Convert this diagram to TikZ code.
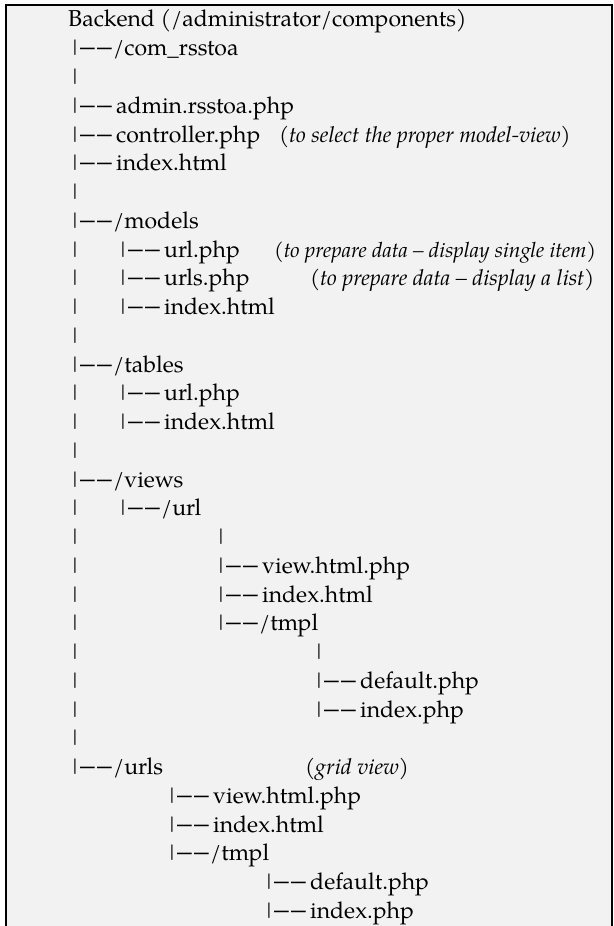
\documentclass[tikz,border=0pt]{standalone}
\usepackage{fontspec}
\setmainfont{texgyrepagella}[Extension=.otf,UprightFont=*-regular,ItalicFont=*-italic,BoldFont=*-bold,BoldItalicFont=*-bolditalic]
\definecolor{bggray}{HTML}{F2F2F2}
\definecolor{bargray}{HTML}{202020}
\newcommand{\fsz}{\fontsize{23}{28}\selectfont}
\newcommand{\csz}{\fontsize{22}{28}\selectfont}
\newcommand{\csm}{\fontsize{21}{28}\selectfont}
\newcommand{\vbar}{{\color{bargray}\raisebox{\depth}{\resizebox{1.2\width}{12.5pt}{|}}}}
\newcommand{\dsh}{\scalebox{0.64}[1.15]{—}}
\newcommand{\pre}{\makebox[8pt][l]{\vbar}\makebox[17pt][l]{\dsh}\dsh}
\newcommand{\br}{\makebox[44pt][l]{\pre}}
\newcommand{\brs}{\makebox[41pt][l]{\pre}}
\tikzset{
  txt/.style={anchor=base west, inner sep=0pt, font=\fsz},
  cmt/.style={anchor=base west, inner sep=0pt, font=\csz\itshape},
  cmts/.style={anchor=base west, inner sep=0pt, font=\csm\itshape},
}
\begin{document}
\begin{tikzpicture}[x=1pt,y=-1pt]
\useasboundingbox (0,0) rectangle (613,926);
\fill[white] (0,0) rectangle (613,926);
\fill[bggray] (6,5) rectangle (613,926);
\draw[line width=2pt] (6,926) -- (6,5) -- (612,5) -- (612,926);
\def\B#1{27+28.75*(#1-1)}
\node[txt] (root) at (68,{\B{1}}) {Backend (/administrator/components)};
\node[txt] (com) at (72,{\B{2}}) {\brs/com\_rsstoa};
\node[txt] (v3) at (72,{\B{3}}) {\vbar};
\node[txt] (admin) at (72,{\B{4}}) {\br admin.rsstoa.php};
\node[txt] (ctrl) at (72,{\B{5}}) {\br controller.php};
\node[cmt] (ctrlc) at (279,{\B{5}}) {(to select the proper model-view)};
\node[txt] (idx1) at (72,{\B{6}}) {\br index.html};
\node[txt] (v7) at (72,{\B{7}}) {\vbar};
\node[txt] (models) at (72,{\B{8}}) {\brs/models};
\node[txt] (v9) at (72,{\B{9}}) {\vbar};
\node[txt] (murl) at (120,{\B{9}}) {\br url.php};
\node[cmts] (murlc) at (274,{\B{9}}) {(to prepare data – display single item)};
\node[txt] (v10) at (72,{\B{10}}) {\vbar};
\node[txt] (murls) at (120,{\B{10}}) {\br urls.php};
\node[cmt] (murlsc) at (310,{\B{10}}) {(to prepare data – display a list)};
\node[txt] (v11) at (72,{\B{11}}) {\vbar};
\node[txt] (midx) at (120,{\B{11}}) {\br index.html};
\node[txt] (v12) at (72,{\B{12}}) {\vbar};
\node[txt] (tables) at (72,{\B{13}}) {\brs/tables};
\node[txt] (v14) at (72,{\B{14}}) {\vbar};
\node[txt] (turl) at (120,{\B{14}}) {\br url.php};
\node[txt] (v15) at (72,{\B{15}}) {\vbar};
\node[txt] (tidx) at (120,{\B{15}}) {\br index.html};
\node[txt] (v16) at (72,{\B{16}}) {\vbar};
\node[txt] (views) at (72,{\B{17}}) {\brs/views};
\node[txt] (v18) at (72,{\B{18}}) {\vbar};
\node[txt] (vurl) at (120,{\B{18}}) {\brs/url};
\node[txt] (v19) at (72,{\B{19}}) {\vbar};
\node[txt] (w19) at (218,{\B{19}}) {\vbar};
\node[txt] (v20) at (72,{\B{20}}) {\vbar};
\node[txt] (uvh) at (218,{\B{20}}) {\br view.html.php};
\node[txt] (v21) at (72,{\B{21}}) {\vbar};
\node[txt] (uidx) at (218,{\B{21}}) {\br index.html};
\node[txt] (v22) at (72,{\B{22}}) {\vbar};
\node[txt] (utmpl) at (218,{\B{22}}) {\brs/tmpl};
\node[txt] (v23) at (72,{\B{23}}) {\vbar};
\node[txt] (w23) at (316,{\B{23}}) {\vbar};
\node[txt] (v24) at (72,{\B{24}}) {\vbar};
\node[txt] (udef) at (316,{\B{24}}) {\br default.php};
\node[txt] (v25) at (72,{\B{25}}) {\vbar};
\node[txt] (uip) at (316,{\B{25}}) {\br index.php};
\node[txt] (v26) at (72,{\B{26}}) {\vbar};
\node[txt] (urls) at (72,{\B{27}}) {\brs/urls};
\node[cmt] (urlsc) at (305,{\B{27}}) {(grid view)};
\node[txt] (svh) at (169,{\B{28}}) {\br view.html.php};
\node[txt] (sidx) at (169,{\B{29}}) {\br index.html};
\node[txt] (stmpl) at (169,{\B{30}}) {\brs/tmpl};
\node[txt] (sdef) at (266,{\B{31}}) {\br default.php};
\node[txt] (sip) at (266,{\B{32}}) {\br index.php};
\end{tikzpicture}
\end{document}
